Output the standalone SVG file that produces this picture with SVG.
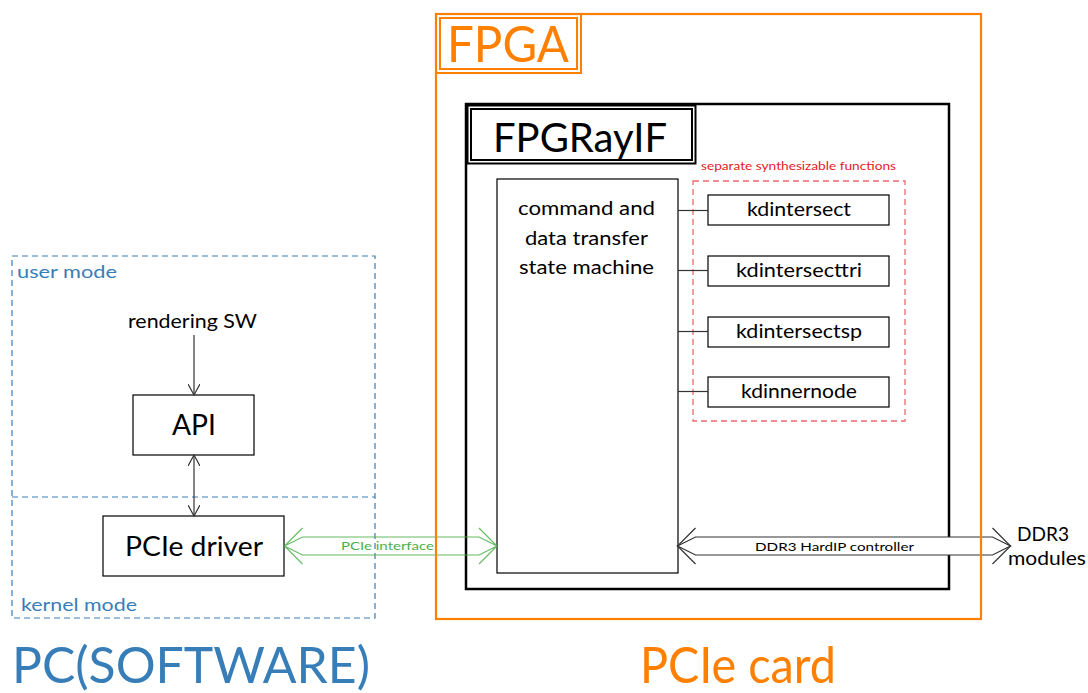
<svg xmlns="http://www.w3.org/2000/svg" width="1088" height="693" viewBox="0 0 1088 693">
  <style>
    text { font-family: Lato, "Liberation Sans", sans-serif; }
    .box { fill: #ffffff; stroke: #000000; stroke-width: 1.2; }
    .fn { fill: none; stroke: #000000; stroke-width: 1.2; }
    .lbl { font-size: 19.5px; fill: #000000; }
    .blue { fill: #377eb8; }
    .orange { fill: #ff7f00; }
    .zone { fill: none; stroke: #377eb8; stroke-width: 1.2; stroke-dasharray: 6 4; }
    .link { fill: none; stroke: #333333; stroke-width: 1.2; }
  </style>
  <defs>
    <marker id="open" viewBox="0 0 12 12" refX="11" refY="6" markerWidth="12" markerHeight="12" markerUnits="userSpaceOnUse" orient="auto-start-reverse">
      <path d="M0,0 L11,6 L0,12" fill="none" stroke="#333333" stroke-width="1.2"/>
    </marker>
  </defs>
  <rect width="1088" height="693" fill="#ffffff"/>

  <!-- PC side: user / kernel mode zones -->
  <g id="pc-zones">
    <rect class="zone" x="12" y="256" width="363" height="362"/>
    <line class="zone" x1="12" y1="497" x2="375" y2="497"/>
    <text x="17" y="278" font-size="18" class="blue" textLength="100" lengthAdjust="spacingAndGlyphs">user mode</text>
    <text x="21" y="611" font-size="18" class="blue" textLength="116" lengthAdjust="spacingAndGlyphs">kernel mode</text>
    <text x="12" y="683" font-size="50" class="blue" textLength="358" lengthAdjust="spacingAndGlyphs">PC(SOFTWARE)</text>
  </g>

  <g id="rendering-sw">
    <text x="128" y="328" class="lbl" textLength="129" lengthAdjust="spacingAndGlyphs">rendering SW</text>
  </g>
  <g id="api">
    <rect class="box" x="133" y="395" width="121" height="60"/>
    <text x="172" y="435" font-size="28" textLength="44" lengthAdjust="spacingAndGlyphs">API</text>
  </g>
  <g id="pcie-driver">
    <rect class="box" x="103" y="516" width="181" height="60"/>
    <text x="125" y="556" font-size="26" textLength="138" lengthAdjust="spacingAndGlyphs">PCIe driver</text>
  </g>

  <!-- FPGA board -->
  <g id="fpga">
    <rect x="466" y="104" width="483" height="485" fill="none" stroke="#000000" stroke-width="2.5"/>
    <rect x="467.5" y="105.5" width="228" height="58" fill="#ffffff" stroke="#000000" stroke-width="2"/>
    <rect x="471" y="109" width="221" height="51" fill="none" stroke="#000000" stroke-width="2"/>
    <text x="493" y="152" font-size="41" textLength="174" lengthAdjust="spacingAndGlyphs">FPGRayIF</text>
  </g>

  <g id="state-machine">
    <rect class="box" x="497" y="179" width="181" height="394"/>
    <text x="518" y="215" class="lbl" textLength="137" lengthAdjust="spacingAndGlyphs">command and</text>
    <text x="525" y="245" class="lbl" textLength="123" lengthAdjust="spacingAndGlyphs">data transfer</text>
    <text x="519" y="274" class="lbl" textLength="135" lengthAdjust="spacingAndGlyphs">state machine</text>
  </g>

  <g id="synth-functions">
    <rect x="693" y="181" width="212" height="240" fill="none" stroke="#e41a1c" stroke-opacity="0.65" stroke-width="1.3" stroke-dasharray="6 4"/>
    <text x="701" y="170" font-size="11.5" fill="#e41a1c" textLength="195" lengthAdjust="spacingAndGlyphs">separate synthesizable functions</text>
  </g>
  <g id="kdintersect">
    <rect class="fn" x="708" y="195" width="181" height="30"/>
    <text x="747" y="216" class="lbl" textLength="104" lengthAdjust="spacingAndGlyphs">kdintersect</text>
  </g>
  <g id="kdintersecttri">
    <rect class="fn" x="708" y="256" width="181" height="30"/>
    <text x="736" y="277" class="lbl" textLength="126" lengthAdjust="spacingAndGlyphs">kdintersecttri</text>
  </g>
  <g id="kdintersectsp">
    <rect class="fn" x="708" y="317" width="181" height="30"/>
    <text x="736" y="338" class="lbl" textLength="126" lengthAdjust="spacingAndGlyphs">kdintersectsp</text>
  </g>
  <g id="kdinnernode">
    <rect class="fn" x="708" y="377" width="181" height="30"/>
    <text x="741" y="398" class="lbl" textLength="116" lengthAdjust="spacingAndGlyphs">kdinnernode</text>
  </g>

  <g id="ddr3-modules">
    <text x="1017" y="541" font-size="20" textLength="52" lengthAdjust="spacingAndGlyphs">DDR3</text>
    <text x="1008" y="565" font-size="20" textLength="78" lengthAdjust="spacingAndGlyphs">modules</text>
  </g>

  <!-- connectors -->
  <g id="connectors">
    <line class="link" x1="194" y1="335" x2="194" y2="395" marker-end="url(#open)"/>
    <line class="link" x1="194" y1="455" x2="194" y2="516" marker-start="url(#open)" marker-end="url(#open)"/>
    <line class="link" x1="678" y1="210.5" x2="708" y2="210.5"/>
    <line class="link" x1="678" y1="270.5" x2="708" y2="270.5"/>
    <line class="link" x1="678" y1="331.5" x2="708" y2="331.5"/>
    <line class="link" x1="678" y1="391.5" x2="708" y2="391.5"/>

    <!-- PCIe interface: hollow double arrow -->
    <path d="M302.5,528 L284.5,546 L302.5,564 M284.5,546 L302.5,537 L479,537 L497,546 L479,555 L302.5,555 Z M479,528 L497,546 L479,564" fill="none" stroke="#4daf4a" stroke-opacity="0.85" stroke-width="1.2" stroke-linejoin="miter"/>
    <text x="341" y="550" font-size="12" fill="#4daf4a" textLength="93" lengthAdjust="spacingAndGlyphs">PCIe interface</text>

    <!-- DDR3 HardIP controller: filled double arrow -->
    <path d="M695.5,537 L992.5,537 L1010.5,546 L992.5,555 L695.5,555 L677.5,546 Z" fill="#ffffff" stroke="#333333" stroke-width="1.2"/>
    <path d="M695.5,528 L677.5,546 L695.5,564 M992.5,528 L1010.5,546 L992.5,564" fill="none" stroke="#333333" stroke-width="1.2"/>
    <text x="755" y="551" font-size="12" textLength="159" lengthAdjust="spacingAndGlyphs">DDR3 HardIP controller</text>
  </g>

  <!-- PCIe card outline, drawn on top -->
  <g id="pcie-card">
    <rect x="436" y="14" width="545" height="605" fill="none" stroke="#ff7f00" stroke-width="2.2"/>
    <rect x="436" y="14" width="145" height="59" fill="none" stroke="#ff7f00" stroke-width="2"/>
    <rect x="440" y="18" width="137" height="51" fill="none" stroke="#ff7f00" stroke-width="2"/>
    <text x="447" y="62" font-size="51" class="orange" textLength="122" lengthAdjust="spacingAndGlyphs">FPGA</text>
    <text x="640" y="683" font-size="50" class="orange" textLength="196" lengthAdjust="spacingAndGlyphs">PCIe card</text>
  </g>
</svg>
